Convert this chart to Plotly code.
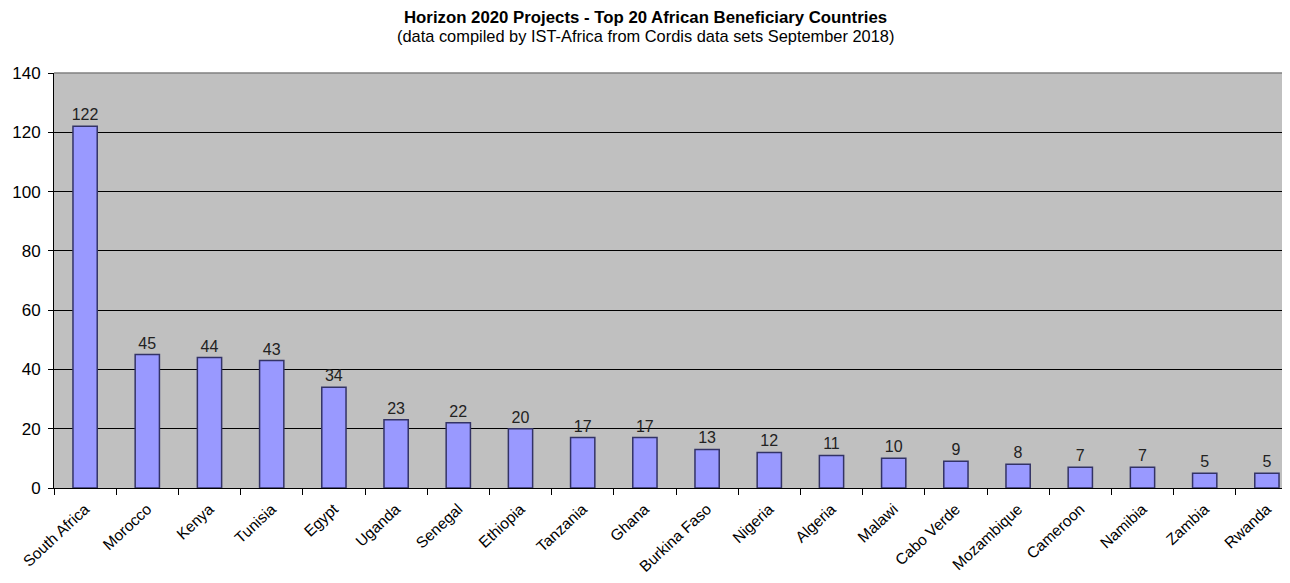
import plotly.graph_objects as go

countries = ["South Africa", "Morocco", "Kenya", "Tunisia", "Egypt", "Uganda", "Senegal",
             "Ethiopia", "Tanzania", "Ghana", "Burkina Faso", "Nigeria", "Algeria", "Malawi",
             "Cabo Verde", "Mozambique", "Cameroon", "Namibia", "Zambia", "Rwanda"]
projects = [122, 45, 44, 43, 34, 23, 22, 20, 17, 17, 13, 12, 11, 10, 9, 8, 7, 7, 5, 5]
y_ticks = [0, 20, 40, 60, 80, 100, 120, 140]

title = "Horizon 2020 Projects - Top 20 African Beneficiary Countries"
subtitle = "(data compiled by IST-Africa from Cordis data sets September 2018)"

font_family = "Liberation Sans, Arial, sans-serif"

# page has an 8px body margin; figure sized to fit the window
W, H = 1282, 567
OFF = 8
plot_left, plot_top, plot_bottom = 54 - OFF, 73 - OFF, 488 - OFF
mt, mb = plot_top, H - plot_bottom
plot_h = H - mt - mb

fig = go.Figure(go.Bar(
    x=countries,
    y=projects,
    text=[str(v) for v in projects],
    textposition="outside",
    constraintext="none",
    textfont=dict(family=font_family, size=16, color="#222222"),
    cliponaxis=False,
    marker=dict(color="#9999FF", line=dict(color="#333366", width=1.5)),
    width=0.39,
))


def ypaper(ypx_page):
    return (H - mb - (ypx_page - OFF)) / plot_h


cx = (645 - OFF - plot_left) / (W - plot_left)
fig.update_layout(
    width=W, height=H,
    margin=dict(l=plot_left, r=0, t=mt, b=mb, autoexpand=False),
    paper_bgcolor="white",
    plot_bgcolor="#C0C0C0",
    showlegend=False,
    font=dict(family=font_family, color="#000000"),
    annotations=[
        dict(text="<b>" + title + "</b>", x=cx,
             xref="paper", y=ypaper(17), yref="paper", yanchor="middle", showarrow=False,
             font=dict(size=16.8, family=font_family, color="#000000")),
        dict(text=subtitle, x=cx,
             xref="paper", y=ypaper(36), yref="paper", yanchor="middle", showarrow=False,
             font=dict(size=16.4, family=font_family, color="#000000")),
    ],
)

span = (W - plot_left) / 62.2
fig.update_xaxes(
    type="category",
    range=[-0.5, -0.5 + span],
    tickangle=-43,
    tickson="boundaries",
    ticks="outside",
    ticklen=6,
    tickcolor="#000000",
    ticklabelstandoff=5,
    showline=True, linecolor="#000000", linewidth=1,
    showgrid=False,
    automargin=False,
    tickfont=dict(size=15.5, family=font_family, color="#000000"),
)
fig.update_yaxes(
    range=[0, 140],
    tickvals=y_ticks,
    ticks="outside",
    ticklen=5,
    tickcolor="#000000",
    ticklabelstandoff=4,
    automargin=False,
    showline=True, linecolor="#000000", linewidth=1,
    showgrid=True, gridcolor="#000000", gridwidth=1,
    zeroline=False,
    tickfont=dict(size=17, family=font_family, color="#000000"),
)

# top border of the plot area
fig.add_shape(type="line", xref="paper", yref="paper", x0=0, x1=1, y0=1, y1=1,
              line=dict(color="#808080", width=1.5))

fig.write_html("out.html")
